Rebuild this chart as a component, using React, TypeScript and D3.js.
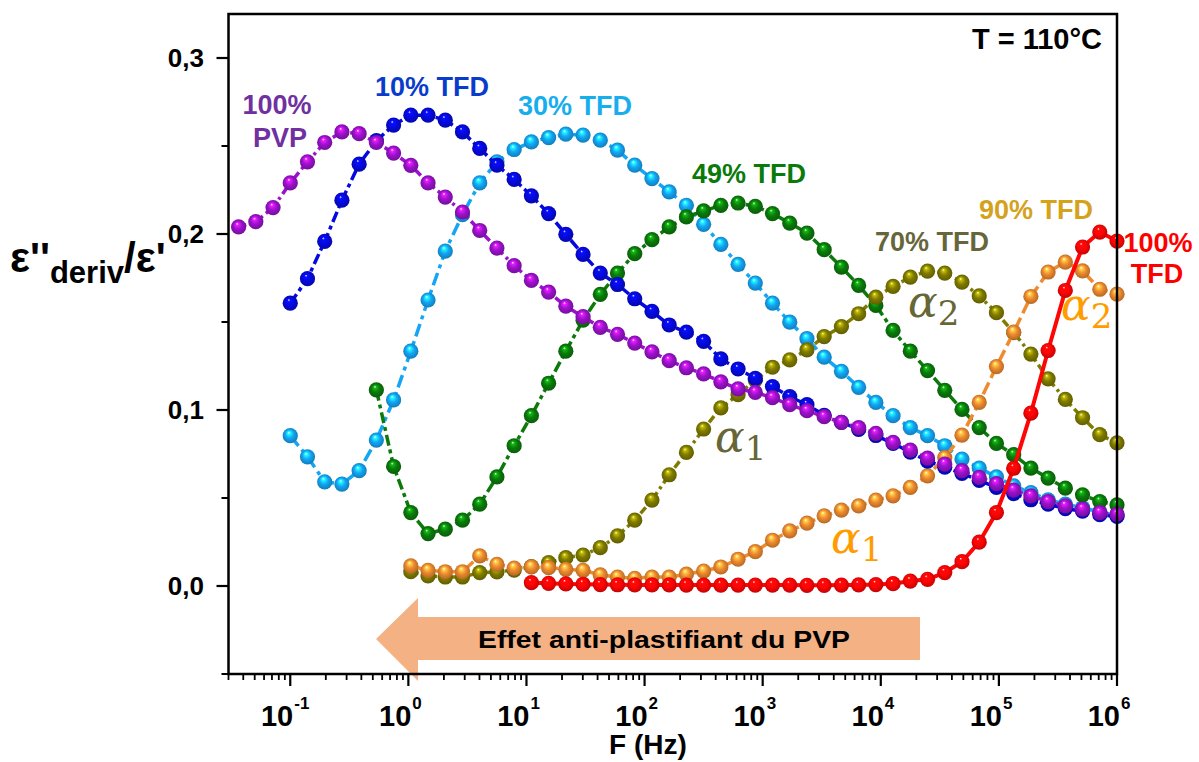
import React from "react";
import * as d3 from "d3";

// Measurement frequencies (Hz), log-spaced grid; index 0 = 0.0365 Hz, index 3 = 0.1 Hz, index 51 = 1 MHz
const FREQ = [
  0.03652, 0.05109, 0.07149,
  0.1, 0.1399, 0.1957, 0.2738, 0.3831, 0.536, 0.7499,
  1.049, 1.468, 2.054, 2.873, 4.02, 5.623, 7.867,
  11.01, 15.4, 21.54, 30.14, 42.17, 58.99, 82.54,
  115.5, 161.6, 226.0, 316.2, 442.4, 618.9, 865.9,
  1211, 1695, 2371, 3317, 4642, 6494, 9085,
  12710, 17783, 24880, 34810, 48700, 68130, 95320,
  133400, 186600, 261000, 365200, 510900, 714800, 1000000,
];

// 100% PVP (starts at FREQ[0])
const PVP100 = [
  0.204, 0.207, 0.215, 0.229, 0.241, 0.252, 0.258, 0.257, 0.252, 0.246,
  0.239, 0.229, 0.221, 0.2125, 0.202, 0.192, 0.182, 0.1736, 0.167, 0.159,
  0.153, 0.147, 0.143, 0.138, 0.133, 0.128, 0.124, 0.1205, 0.116, 0.112,
  0.11, 0.107, 0.103, 0.0996, 0.0962, 0.093, 0.09, 0.0867, 0.0816, 0.0772,
  0.0727, 0.0693, 0.0655, 0.0617, 0.0582, 0.0545, 0.0512, 0.048, 0.0455, 0.0437,
  0.0417, 0.0408,
];
// 10% TFD (starts at FREQ[3])
const TFD10 = [
  0.1607, 0.1746, 0.1958, 0.2192, 0.2397, 0.253, 0.2619, 0.2675, 0.2675, 0.2647,
  0.258, 0.2486, 0.2391, 0.231, 0.2217, 0.2116, 0.1998, 0.1884, 0.1778, 0.1713,
  0.1632, 0.156, 0.1483, 0.1442, 0.139, 0.129, 0.1233, 0.118, 0.1133, 0.1076,
  0.103, 0.097, 0.093, 0.089, 0.0855, 0.081, 0.076, 0.071, 0.0675, 0.064,
  0.06, 0.056, 0.0525, 0.049, 0.0465, 0.044, 0.0425, 0.0405, 0.0395,
];
// 30% TFD (starts at FREQ[3])
const TFD30 = [
  0.0854, 0.0734, 0.0592, 0.0579, 0.0655, 0.0829, 0.1057, 0.1334, 0.1625, 0.1903,
  0.211, 0.229, 0.241, 0.248, 0.2523, 0.2548, 0.2567, 0.2562, 0.2533, 0.2476,
  0.2391, 0.2315, 0.2239, 0.2163, 0.2055, 0.1941, 0.1827, 0.1721, 0.1607, 0.1499,
  0.1405, 0.13, 0.122, 0.1129, 0.1043, 0.0968, 0.09, 0.0854, 0.0797, 0.0721,
  0.067, 0.062, 0.0569, 0.053, 0.049, 0.0465, 0.0445, 0.042, 0.04,
];
// 49% TFD (starts at FREQ[8])
const TFD49 = [
  0.1114, 0.0679, 0.0417, 0.0298, 0.0323, 0.0374, 0.0465, 0.062, 0.0797, 0.0968,
  0.1152, 0.1334, 0.151, 0.1657, 0.1778, 0.1888, 0.1968, 0.204, 0.2097, 0.2131,
  0.2163, 0.2176, 0.2157, 0.2116, 0.2062, 0.2005, 0.1911, 0.1812, 0.1708, 0.1594,
  0.1452, 0.1334, 0.1224, 0.1112, 0.1003, 0.09, 0.081, 0.0746, 0.067, 0.0613,
  0.0556, 0.0518, 0.048, 0.0461,
];
// 70% TFD (starts at FREQ[10])
const TFD70 = [
  0.0081, 0.0057, 0.0051, 0.0051, 0.0076, 0.008, 0.009, 0.011, 0.0133, 0.0161,
  0.0176, 0.0218, 0.0285, 0.0374, 0.0488, 0.0632, 0.0759, 0.0892, 0.1012, 0.1087,
  0.117, 0.1243, 0.1285, 0.1342, 0.1417, 0.1474, 0.1547, 0.1641, 0.1702, 0.1755,
  0.1789, 0.1778, 0.1727, 0.1648, 0.1553, 0.144, 0.1318, 0.1177, 0.106, 0.0956,
  0.086, 0.0813,
];
// 90% TFD (starts at FREQ[10])
const TFD90 = [
  0.0114, 0.0089, 0.0081, 0.0081, 0.0171, 0.0123, 0.0102, 0.0109, 0.0104, 0.0095,
  0.0089, 0.0063, 0.0051, 0.0044, 0.0051, 0.0051, 0.0067, 0.0085, 0.0108, 0.0152,
  0.0195, 0.026, 0.0313, 0.0357, 0.0398, 0.0431, 0.0455, 0.0488, 0.0512, 0.056,
  0.0626, 0.073, 0.0857, 0.1043, 0.1247, 0.1442, 0.1645, 0.1784, 0.184, 0.179,
  0.1686, 0.1658,
];
// 100% TFD (starts at FREQ[17])
const TFD100 = [
  0.0019, 0.0015, 0.0012, 0.001, 0.0008, 0.0007, 0.0006, 0.0006, 0.0006, 0.0005,
  0.0005, 0.0005, 0.0005, 0.0005, 0.0005, 0.0005, 0.0004, 0.0004, 0.0005, 0.0006,
  0.0008, 0.0013, 0.0028, 0.0038, 0.0076, 0.0138, 0.0249, 0.0417, 0.0669, 0.0982,
  0.1338, 0.1679, 0.1926, 0.2011, 0.196,
];

const X_MAJOR = [0.1, 1, 10, 100, 1000, 10000, 100000, 1000000];
const X_EXP = ["-1", "0", "1", "2", "3", "4", "5", "6"];
const Y_MAJOR = [0, 0.1, 0.2, 0.3];
const Y_MAJOR_LABELS = ["0,0", "0,1", "0,2", "0,3"];
const Y_MINOR = [-0.05, 0.05, 0.15, 0.25];

type S = { id: string; values: number[]; start: number; color: string; dash: string; width: number };

// drawing order: bottom first
const SERIES: S[] = [
  { id: "t30", values: TFD30, start: 3, color: "#14a5f5", dash: "13,5,4,5", width: 3.5 },
  { id: "t49", values: TFD49, start: 8, color: "#0b7a0b", dash: "11,4,4,4", width: 3.5 },
  { id: "t70", values: TFD70, start: 10, color: "#7f7b00", dash: "8,4,3,4", width: 3.5 },
  { id: "t90", values: TFD90, start: 10, color: "#ef8a2f", dash: "13,5", width: 3.5 },
  { id: "t10", values: TFD10, start: 3, color: "#0509e0", dash: "11,4,4,4", width: 3.5 },
  { id: "pvp", values: PVP100, start: 0, color: "#9b12cc", dash: "8,4,3,4", width: 3.5 },
  { id: "t100", values: TFD100, start: 17, color: "#ff0505", dash: "", width: 4 },
];

const W = 1199;
const H = 762;
const LEFT = 228.5;
const RIGHT = 1117;
const TOP = 14;
const BOTTOM = 674;

const FONT = "'Liberation Sans', Arial, sans-serif";
const MATH = "'DejaVu Serif', 'Liberation Serif', serif";

export default function App() {
  const x = d3.scaleLog().domain([0.03, 1e6]).range([LEFT, RIGHT]);
  const y = d3.scaleLinear().domain([-0.05, 0.325]).range([BOTTOM, TOP]);

  const xMinor: number[] = [];
  for (let e = -2; e < 6; e++) {
    for (let m = 2; m <= 9; m++) {
      const v = m * Math.pow(10, e);
      if (v >= 0.03 && v <= 1e6) xMinor.push(v);
    }
  }

  const line = d3
    .line<[number, number]>()
    .x((d) => x(d[0]))
    .y((d) => y(d[1]));

  const pts = (s: S): [number, number][] => s.values.map((v, i) => [FREQ[s.start + i], v]);

  const labels = [
    { t: "100%", x: 277, y: 114, c: "#7030a0" },
    { t: "PVP", x: 280, y: 147, c: "#7030a0" },
    { t: "10% TFD", x: 432, y: 96, c: "#0a3ccc" },
    { t: "30% TFD", x: 575, y: 115, c: "#17aeee" },
    { t: "49% TFD", x: 749, y: 183, c: "#0a7a0a" },
    { t: "70% TFD", x: 932, y: 251, c: "#67663a" },
    { t: "90% TFD", x: 1036, y: 219, c: "#d4a21c" },
    { t: "100%", x: 1158, y: 252, c: "#ff0000" },
    { t: "TFD", x: 1157, y: 283, c: "#ff0000" },
  ];

  const alphas = [
    { n: "2", x: 908, y: 317, c: "#676637" },
    { n: "1", x: 715, y: 452, c: "#676637" },
    { n: "1", x: 831, y: 553, c: "#ff9c00" },
    { n: "2", x: 1061, y: 320, c: "#ff9c00" },
  ];

  return (
    <div style={{ position: "absolute", left: 0, top: 0 }}>
      <svg width={W} height={H} style={{ display: "block", background: "#fff" }}>
        <defs>
          {SERIES.map((s) => {
            const c = d3.color(s.color)!;
            return (
              <radialGradient key={s.id} id={"g-" + s.id} cx="0.5" cy="0.5" r="0.55" fx="0.4" fy="0.28">
                <stop offset="0" stopColor="#ffffff" />
                <stop offset="0.16" stopColor={c.brighter(1.2).formatHex()} />
                <stop offset="0.5" stopColor={s.color} />
                <stop offset="1" stopColor={c.darker(0.9).formatHex()} />
              </radialGradient>
            );
          })}
          <clipPath id="plotclip">
            <rect x={LEFT} y={TOP} width={RIGHT - LEFT + 9} height={BOTTOM - TOP} />
          </clipPath>
        </defs>

        {/* series */}
        <g clipPath="url(#plotclip)">
          {SERIES.map((s) => (
            <g key={s.id}>
              <path
                d={line(pts(s)) || ""}
                fill="none"
                stroke={s.color}
                strokeWidth={s.width}
                strokeDasharray={s.dash || undefined}
              />
              {pts(s).map((p, i) => (
                <circle key={i} cx={x(p[0])} cy={y(p[1])} r={7.6} fill={`url(#g-${s.id})`} />
              ))}
            </g>
          ))}
        </g>

        {/* arrow */}
        <polygon
          points="376,639 418,598 418,617 920,617 920,660 418,660 418,681"
          fill="#f4b183"
        />
        <text x={664} y={648} textAnchor="middle" fontFamily={FONT} fontWeight="bold" fontSize={24}
          textLength={372} lengthAdjust="spacingAndGlyphs" fill="#000">
          Effet anti-plastifiant du PVP
        </text>

        {/* frame */}
        <rect x={LEFT} y={TOP} width={RIGHT - LEFT} height={BOTTOM - TOP} fill="none" stroke="#000" strokeWidth={2.5} />

        {/* x ticks */}
        {X_MAJOR.map((v) => (
          <line key={"xM" + v} x1={x(v)} x2={x(v)} y1={BOTTOM} y2={BOTTOM + 12} stroke="#000" strokeWidth={2.2} />
        ))}
        {xMinor.map((v) => (
          <line key={"xm" + v} x1={x(v)} x2={x(v)} y1={BOTTOM} y2={BOTTOM + 6} stroke="#000" strokeWidth={1.8} />
        ))}
        {X_MAJOR.map((v) => (
          <text key={"xl" + v} x={x(v) + 3} y={726} textAnchor="end" fontFamily={FONT} fontWeight="bold" fontSize={29} fill="#000">
            10
          </text>
        ))}
        {X_MAJOR.map((v, i) => (
          <text key={"xe" + v} x={x(v) + 4} y={709} textAnchor="start" fontFamily={FONT} fontWeight="bold" fontSize={17} fill="#000">
            {X_EXP[i]}
          </text>
        ))}
        <text x={648} y={754} textAnchor="middle" fontFamily={FONT} fontWeight="bold" fontSize={28} fill="#000">
          F (Hz)
        </text>

        {/* y ticks */}
        {Y_MAJOR.map((v, i) => (
          <g key={"yM" + v}>
            <line x1={LEFT - 12} x2={LEFT} y1={y(v)} y2={y(v)} stroke="#000" strokeWidth={2.2} />
            <text x={204} y={y(v) + 9} textAnchor="end" fontFamily={FONT} fontWeight="bold" fontSize={26} fill="#000">
              {Y_MAJOR_LABELS[i]}
            </text>
          </g>
        ))}
        {Y_MINOR.map((v) => (
          <line key={"ym" + v} x1={LEFT - 7} x2={LEFT} y1={y(v)} y2={y(v)} stroke="#000" strokeWidth={2} />
        ))}
        <text x={10} y={272} fontFamily={FONT} fontWeight="bold" fontSize={42} fill="#000">
          <tspan>ε''</tspan>
          <tspan fontSize={31} dy={11}>deriv</tspan>
          <tspan dy={-11}>/ε'</tspan>
        </text>

        {/* title */}
        <text x={1102} y={49} textAnchor="end" fontFamily={FONT} fontWeight="bold" fontSize={29} fill="#000">
          T = 110°C
        </text>

        {/* series labels */}
        {labels.map((l, i) => (
          <text key={"lab" + i} x={l.x} y={l.y} textAnchor="middle" fontFamily={FONT} fontWeight="bold" fontSize={27} fill={l.c}>
            {l.t}
          </text>
        ))}

        {/* alpha labels */}
        {alphas.map((a, i) => (
          <text key={"al" + i} x={a.x} y={a.y} fontFamily={MATH} fontSize={44} fill={a.c}>
            <tspan fontStyle="italic">α</tspan>
            <tspan fontSize={34} dy={8}>{a.n}</tspan>
          </text>
        ))}
      </svg>
    </div>
  );
}
